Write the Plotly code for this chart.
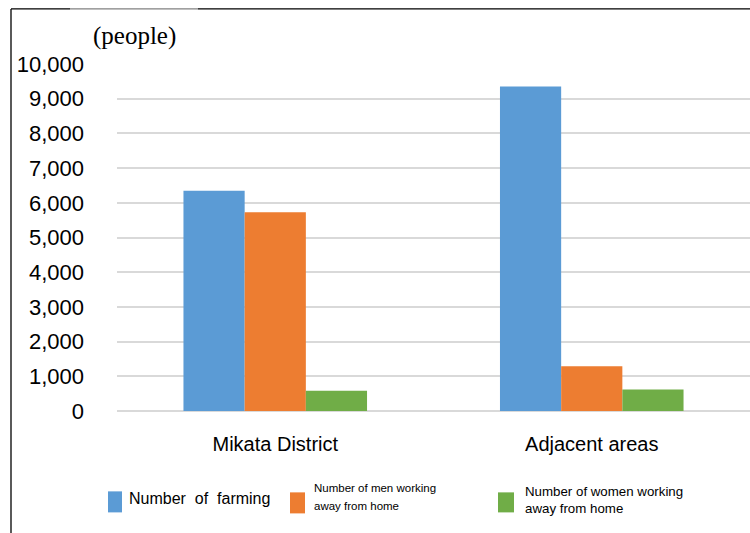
import plotly.graph_objects as go

categories = ["Mikata District", "Adjacent areas"]
series_names = [
    "Number  of  farming",
    "Number of men working<br>away from home",
    "Number of women working<br>away from home",
]
farming = [6350, 9350]
men_away = [5730, 1290]
women_away = [580, 620]
series_values = [farming, men_away, women_away]
colors = ["#5b9bd5", "#ed7d31", "#70ad47"]
y_ticks = [0, 1000, 2000, 3000, 4000, 5000, 6000, 7000, 8000, 9000, 10000]

W, H = 750, 533
L, R, T, B = 117, 0, 64, 122.3
pw, ph = W - L - R, H - T - B


def px(x):
    return (x - L) / pw


def py(y):
    return (H - B - y) / ph


fig = go.Figure()
for name, vals, col in zip(series_names, series_values, colors):
    fig.add_trace(go.Bar(x=categories, y=vals, name=name,
                         marker=dict(color=col, line=dict(width=0)),
                         showlegend=False))

fig.update_layout(
    width=W, height=H,
    margin=dict(l=L, r=R, t=T, b=B),
    paper_bgcolor="white", plot_bgcolor="white",
    barmode="group", bargap=0.42, bargroupgap=0,
    font=dict(family="Liberation Sans, Arial, sans-serif", color="#000000"),
    xaxis=dict(showgrid=False, showline=False, ticks="",
               tickfont=dict(size=20, color="#000000"),
               ticklabelstandoff=19),
    yaxis=dict(range=[0, 10000], tickvals=y_ticks,
               ticktext=[f"{v:,}" for v in y_ticks],
               showgrid=True, gridcolor="#d9d9d9", gridwidth=1.5,
               zeroline=True, zerolinecolor="#d9d9d9", zerolinewidth=1.5,
               showline=False, ticks="",
               tickfont=dict(size=22, color="#000000"),
               ticklabelstandoff=32),
)

# frame lines: left and top, with a lighter segment behind the unit label
shapes = [
    dict(type="line", xref="paper", yref="paper", x0=px(11), x1=px(11),
         y0=py(9), y1=py(533), line=dict(color="black", width=1.3)),
    dict(type="line", xref="paper", yref="paper", x0=px(11), x1=px(70),
         y0=py(9), y1=py(9), line=dict(color="black", width=1.3)),
    dict(type="line", xref="paper", yref="paper", x0=px(70), x1=px(198),
         y0=py(9), y1=py(9), line=dict(color="#808080", width=1.3)),
    dict(type="line", xref="paper", yref="paper", x0=px(198), x1=px(750),
         y0=py(9), y1=py(9), line=dict(color="black", width=1.3)),
]

annotations = [
    dict(text="(people)", xref="paper", yref="paper", x=px(134), y=py(36),
         xanchor="center", yanchor="middle", showarrow=False,
         font=dict(family="Liberation Serif, Times New Roman, serif", size=25)),
]

# legend drawn as swatches with labels; each label line placed on its own row
legend_items = [
    (108, 122, 491, 512, 127, [498], 16),
    (290, 305, 492, 513, 312, [488, 506], 11.5),
    (498, 514, 492, 512, 523, [491, 508], 13.3),
]
narrow = "Liberation Sans Narrow, Arial Narrow, Liberation Sans, sans-serif"
for (x0, x1, y0, y1, tx, tys, fs), name, col in zip(legend_items, series_names, colors):
    shapes.append(dict(type="rect", xref="paper", yref="paper",
                       x0=px(x0), x1=px(x1), y0=py(y0), y1=py(y1),
                       fillcolor=col, line=dict(width=0)))
    for line_text, ty in zip(name.split("<br>"), tys):
        annotations.append(dict(text=line_text, xref="paper", yref="paper",
                                x=px(tx), y=py(ty), xanchor="left", yanchor="middle",
                                align="left", showarrow=False,
                                font=dict(family=narrow, size=fs, color="#000000")))

fig.update_layout(shapes=shapes, annotations=annotations)
fig.write_html("out.html")
